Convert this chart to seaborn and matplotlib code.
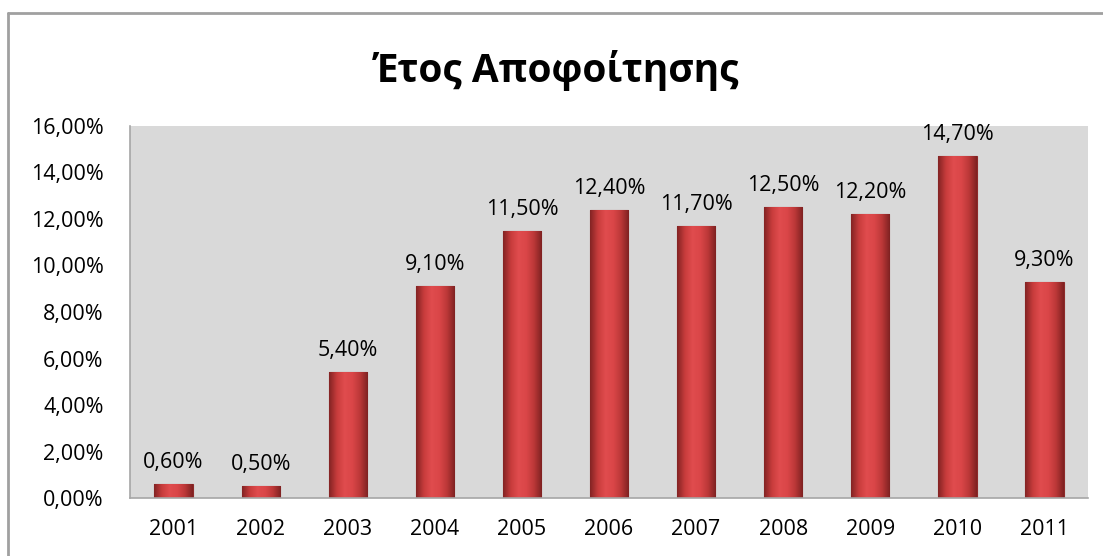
import numpy as np
import pandas as pd
import matplotlib
matplotlib.use("Agg")
import matplotlib.pyplot as plt
from matplotlib.lines import Line2D
from matplotlib.colors import LinearSegmentedColormap
import seaborn as sns

# Data (percent of graduates per year)
years = ['2001', '2002', '2003', '2004', '2005', '2006', '2007', '2008', '2009', '2010', '2011']
shares = [0.6, 0.5, 5.4, 9.1, 11.5, 12.4, 11.7, 12.5, 12.2, 14.7, 9.3]
title = 'Έτος Αποφοίτησης'

df = pd.DataFrame({'year': years, 'share': shares})

sns.set_style('white')
plt.rcParams['font.family'] = ['Open Sans', 'DejaVu Sans']
plt.rcParams['text.color'] = 'black'
plt.rcParams['xtick.color'] = 'black'
plt.rcParams['ytick.color'] = 'black'

fig = plt.figure(figsize=(11.03, 5.56), dpi=100)
ax = fig.add_axes([0.1179, 0.1043, 0.8685, 0.6691])
ax.set_facecolor('#D9D9D9')

sns.barplot(data=df, x='year', y='share', color='#D2403F', width=0.44,
            edgecolor='#8E2A2A', linewidth=0.8, ax=ax)

# fake the excel bevel look with a horizontal gradient clipped to each bar
grad = LinearSegmentedColormap.from_list('bevel', ['#842424', '#C83C3C', '#E04C4E', '#DA4648', '#BC3838', '#802222'])
g = np.linspace(0, 1, 64).reshape(1, -1)
for p in ax.patches:
    x0, y0 = p.get_x(), p.get_y()
    w, h = p.get_width(), p.get_height()
    im = ax.imshow(g, cmap=grad, extent=(x0, x0 + w, y0, y0 + h), aspect='auto', zorder=p.get_zorder() + 0.1)
    im.set_clip_path(p)

labels = [f'{v:.2f}%'.replace('.', ',') for v in shares]
ax.bar_label(ax.containers[0], labels=labels, padding=8, fontsize=15.5, color='black')

ax.set_ylim(0, 16)
ax.set_xlim(-0.5, len(years) - 0.5)
ax.set_yticks(np.arange(0, 17, 2))
ax.set_yticklabels([f'{t:.2f}%'.replace('.', ',') for t in np.arange(0, 17, 2)])
ax.tick_params(axis='y', length=0, pad=19, labelsize=15.5)
ax.tick_params(axis='x', length=0, pad=15, labelsize=15.5)
ax.set_xlabel('')
ax.set_ylabel('')

for s in ['top', 'right']:
    ax.spines[s].set_visible(False)
for s in ['left', 'bottom']:
    ax.spines[s].set_color('#A6A6A6')
    ax.spines[s].set_linewidth(1.2)

fig.text(0.505, 0.874, title, ha='center', va='center', fontsize=28, fontweight='bold', color='black')

# outer chart frame (only top and left edges visible in the crop)
fx, fy = 8 / 1103, 1 - 13 / 556
fig.add_artist(Line2D([fx, 1.0], [fy, fy], transform=fig.transFigure, color='#A0A0A0', lw=2))
fig.add_artist(Line2D([fx, fx], [0.0, fy], transform=fig.transFigure, color='#A0A0A0', lw=2))

fig.savefig('out.png', dpi=100)
